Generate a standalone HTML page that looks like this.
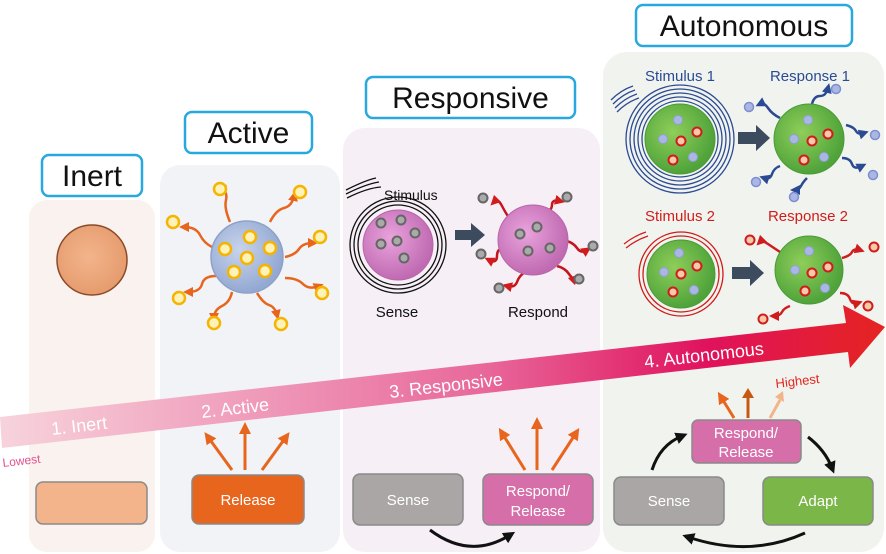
<!DOCTYPE html>
<html><head><meta charset="utf-8"><style>
html,body{margin:0;padding:0;background:#fff;}
svg{display:block;font-family:"Liberation Sans",sans-serif;}
</style></head><body>
<svg width="886" height="554" viewBox="0 0 886 554" xmlns="http://www.w3.org/2000/svg">
<defs>
<linearGradient id="ar" x1="0" y1="0" x2="1" y2="0">
<stop offset="0" stop-color="#f7d3dc"/><stop offset="0.55" stop-color="#e8679a"/><stop offset="0.8" stop-color="#e0125d"/><stop offset="1" stop-color="#e52420"/></linearGradient>
<radialGradient id="gs" cx="0.4" cy="0.4" r="0.6"><stop offset="0" stop-color="#8fce5a"/><stop offset="1" stop-color="#4fa33a"/></radialGradient>
<radialGradient id="ps" cx="0.4" cy="0.4" r="0.6"><stop offset="0" stop-color="#e9a3dc"/><stop offset="1" stop-color="#c06ab2"/></radialGradient>
<radialGradient id="bs" cx="0.4" cy="0.4" r="0.6"><stop offset="0" stop-color="#c8d4ec"/><stop offset="1" stop-color="#93a8d2"/></radialGradient>
<radialGradient id="os" cx="0.45" cy="0.45" r="0.6"><stop offset="0" stop-color="#f4b48b"/><stop offset="1" stop-color="#e49a6c"/></radialGradient>
<marker id="ma" markerWidth="4" markerHeight="4" refX="2" refY="2" orient="auto"><path d="M0,0 L4,2 L0,4z" fill="#e8651e"/></marker>
<marker id="mk" markerWidth="4" markerHeight="4" refX="2" refY="2" orient="auto"><path d="M0,0 L4,2 L0,4z" fill="#111"/></marker>
<marker id="mr" markerWidth="4" markerHeight="4" refX="2" refY="2" orient="auto"><path d="M0,0 L4,2 L0,4z" fill="#d01c1c"/></marker>
<marker id="mb" markerWidth="4" markerHeight="4" refX="2" refY="2" orient="auto"><path d="M0,0 L4,2 L0,4z" fill="#2b4a94"/></marker>
</defs>
<!-- panels -->
<rect x="29" y="200" width="126" height="352" rx="18" fill="#f9f2ee"/>
<rect x="160" y="165" width="180" height="387" rx="20" fill="#f1f3f7"/>
<rect x="343" y="128" width="257" height="424" rx="22" fill="#f6eff6"/>
<rect x="603" y="52" width="281" height="500" rx="24" fill="#f1f4ee"/>
<!-- titles -->
<g font-size="30" text-anchor="middle" fill="#111">
<rect x="42" y="155" width="100" height="41" rx="7" fill="#fff" stroke="#29a8e0" stroke-width="2.5"/><text x="92" y="186">Inert</text>
<rect x="185" y="112" width="127" height="41" rx="7" fill="#fff" stroke="#29a8e0" stroke-width="2.5"/><text x="248.5" y="143">Active</text>
<rect x="366" y="77" width="209" height="41" rx="7" fill="#fff" stroke="#29a8e0" stroke-width="2.5"/><text x="470.5" y="108">Responsive</text>
<rect x="636" y="5" width="216" height="41" rx="7" fill="#fff" stroke="#29a8e0" stroke-width="2.5"/><text x="744" y="36">Autonomous</text>
</g>
<!-- inert -->
<circle cx="92" cy="260" r="35" fill="url(#os)" stroke="#8b4a2a" stroke-width="1.5"/>
<!-- active -->
<g stroke="#e8651e" stroke-width="2.5" fill="none" marker-end="url(#ma)">
<path d="M230,222 q-6,-14 -4,-22 t-6,-14"/><path d="M270,222 q6,-12 14,-14 t10,-12"/>
<path d="M212,247 q-8,-4 -12,-12 t-16,-8"/><path d="M285,257 q10,-2 14,-8 t14,-6"/>
<path d="M285,278 q12,0 18,6 t16,2"/><path d="M216,276 q-12,0 -14,8 t-14,8"/>
<path d="M232,292 q-2,10 -10,14 t-8,12"/><path d="M257,293 q6,10 12,12 t8,10"/>
</g>
<g fill="#fff2b8" stroke="#f5b400" stroke-width="2.5">
<circle cx="220" cy="189" r="6"/><circle cx="300" cy="192" r="6"/><circle cx="173" cy="222" r="6"/><circle cx="320" cy="237" r="6"/>
<circle cx="179" cy="298" r="6"/><circle cx="322" cy="293" r="6"/><circle cx="214" cy="323" r="6"/><circle cx="281" cy="324" r="6"/>
</g>
<circle cx="247" cy="257" r="36" fill="url(#bs)" stroke="#8ea2c8" stroke-width="1.5"/>
<g fill="#fff2b8" stroke="#f5b400" stroke-width="2.5">
<circle cx="250" cy="237" r="6"/><circle cx="225" cy="249" r="6"/><circle cx="270" cy="248" r="6"/><circle cx="247" cy="258" r="6"/><circle cx="234" cy="272" r="6"/><circle cx="265" cy="271" r="6"/>
</g>
<!-- responsive -->
<g fill="none" stroke="#111" stroke-width="1.3">
<circle cx="398" cy="245" r="40"/><circle cx="398" cy="245" r="44"/><circle cx="398" cy="245" r="48"/>
<path d="M346,190 q20,-10 30,-12"/><path d="M346,194 q20,-10 33,-12"/><path d="M347,198 q20,-10 34,-11"/>
</g>
<text x="384" y="200" font-size="14" fill="#111">Stimulus</text>
<circle cx="398" cy="245" r="35" fill="url(#ps)" stroke="#b865a8"/>
<g fill="#aaa" stroke="#666" stroke-width="2">
<circle cx="381" cy="223" r="4.5"/><circle cx="401" cy="220" r="4.5"/><circle cx="415" cy="233" r="4.5"/><circle cx="381" cy="244" r="4.5"/><circle cx="397" cy="241" r="4.5"/><circle cx="404" cy="258" r="4.5"/>
</g>
<path d="M455,230 h16 v-7 l14,12 l-14,12 v-7 h-16z" fill="#3d4b5e"/>
<g stroke="#c4161c" stroke-width="2.5" fill="none" marker-end="url(#mr)">
<path d="M512,222 q-6,-8 -10,-16 t-8,-4"/><path d="M542,215 q10,-4 10,-10 t8,-4"/><path d="M563,240 q10,2 14,8 t10,2"/><path d="M557,266 q8,2 12,8 t6,4"/><path d="M525,272 q-6,4 -8,10 t-10,4"/><path d="M505,248 q-8,0 -8,8 t-8,4"/>
</g>
<circle cx="533" cy="240" r="35" fill="url(#ps)" stroke="#b865a8"/>
<g fill="#aaa" stroke="#666" stroke-width="2">
<circle cx="520" cy="234" r="4.5"/><circle cx="537" cy="227" r="4.5"/><circle cx="528" cy="251" r="4.5"/><circle cx="550" cy="248" r="4.5"/>
<circle cx="483" cy="198" r="4.5"/><circle cx="567" cy="197" r="4.5"/><circle cx="593" cy="246" r="4.5"/><circle cx="579" cy="279" r="4.5"/><circle cx="499" cy="288" r="4.5"/><circle cx="481" cy="254" r="4.5"/>
</g>
<text x="397" y="317" font-size="15" text-anchor="middle" fill="#111">Sense</text>
<text x="538" y="317" font-size="15" text-anchor="middle" fill="#111">Respond</text>
<!-- autonomous -->
<g font-size="15" text-anchor="middle">
<text x="680" y="81" fill="#2b4a94">Stimulus 1</text><text x="810" y="81" fill="#2b4a94">Response 1</text>
<text x="680" y="221" fill="#d01c1c">Stimulus 2</text><text x="808" y="221" fill="#d01c1c">Response 2</text>
</g>
<g fill="none" stroke="#2b4a94" stroke-width="1.3">
<circle cx="680" cy="139" r="38"/><circle cx="680" cy="139" r="42"/><circle cx="680" cy="139" r="46"/><circle cx="680" cy="139" r="50"/><circle cx="680" cy="139" r="54"/>
<path d="M611,100 q10,-10 22,-14"/><path d="M613,104 q10,-10 22,-14"/><path d="M615,108 q10,-10 22,-14"/><path d="M617,112 q10,-10 22,-14"/>
</g>
<g fill="none" stroke="#d01c1c" stroke-width="1.3">
<circle cx="681" cy="274" r="38"/><circle cx="681" cy="274" r="42"/>
<path d="M624,244 q10,-8 22,-12"/><path d="M626,248 q10,-8 22,-12"/>
</g>
<path d="M738,132 h18 v-7 l14,13 l-14,13 v-7 h-18z" fill="#3d4b5e"/>
<path d="M732,267 h18 v-7 l14,13 l-14,13 v-7 h-18z" fill="#3d4b5e"/>
<g stroke="#2b4a94" stroke-width="2.5" fill="none" marker-end="url(#mb)">
<path d="M812,104 q2,-8 8,-8 t8,-8"/><path d="M780,118 q-8,-4 -12,-10 t-8,-4"/><path d="M846,125 q8,2 10,6 t8,2"/><path d="M842,158 q8,0 10,6 t10,2"/><path d="M780,166 q-6,2 -8,8 t-8,4"/><path d="M807,178 q-4,4 -6,8 t-6,4"/>
</g>
<g fill="#aab7e4" stroke="#7d8fd0" stroke-width="1.5">
<circle cx="836" cy="89" r="4.5"/><circle cx="749" cy="107" r="4.5"/><circle cx="875" cy="135" r="4.5"/><circle cx="873" cy="175" r="4.5"/><circle cx="756" cy="182" r="4.5"/><circle cx="794" cy="197" r="4.5"/>
</g>
<g stroke="#d01c1c" stroke-width="2.5" fill="none" marker-end="url(#mr)">
<path d="M780,252 q-6,-4 -12,-8 t-8,-2"/><path d="M842,258 q8,-2 10,-6 t8,-2"/><path d="M840,293 q8,0 10,6 t8,4"/><path d="M790,306 q-6,2 -8,6 t-8,4"/>
</g>
<g fill="#f7c9a8" stroke="#d01c1c" stroke-width="2">
<circle cx="750" cy="240" r="4.5"/><circle cx="874" cy="247" r="4.5"/><circle cx="868" cy="306" r="4.5"/><circle cx="763" cy="319" r="4.5"/>
</g>
<circle cx="680" cy="139" r="35" fill="url(#gs)" stroke="#4b9a36"/>
<circle cx="809" cy="139" r="35" fill="url(#gs)" stroke="#4b9a36"/>
<circle cx="681" cy="274" r="34" fill="url(#gs)" stroke="#4b9a36"/>
<circle cx="809" cy="270" r="34" fill="url(#gs)" stroke="#4b9a36"/>
<g fill="#aab7e4" stroke="#8f9fd8" stroke-width="1">
<circle cx="678" cy="120" r="4.5"/><circle cx="663" cy="139" r="4.5"/><circle cx="693" cy="157" r="4.5"/>
<circle cx="808" cy="120" r="4.5"/><circle cx="794" cy="139" r="4.5"/><circle cx="824" cy="157" r="4.5"/>
<circle cx="679" cy="253" r="4.5"/><circle cx="664" cy="272" r="4.5"/><circle cx="694" cy="290" r="4.5"/>
<circle cx="809" cy="251" r="4.5"/><circle cx="795" cy="270" r="4.5"/><circle cx="825" cy="288" r="4.5"/>
</g>
<g fill="#f7c9a8" stroke="#d01c1c" stroke-width="2">
<circle cx="697" cy="132" r="4.5"/><circle cx="681" cy="141" r="4.5"/><circle cx="673" cy="160" r="4.5"/>
<circle cx="828" cy="134" r="4.5"/><circle cx="812" cy="141" r="4.5"/><circle cx="804" cy="160" r="4.5"/>
<circle cx="697" cy="266" r="4.5"/><circle cx="681" cy="274" r="4.5"/><circle cx="673" cy="292" r="4.5"/>
<circle cx="828" cy="267" r="4.5"/><circle cx="812" cy="273" r="4.5"/><circle cx="805" cy="291" r="4.5"/>
</g>
<!-- big arrow -->
<path d="M0,417 L846,323 L843,305 L885,327 L850,368 L848,352 L2,448 Z" fill="url(#ar)"/>
<g fill="#fff" font-size="18">
<text x="52" y="435" transform="rotate(-6.5 52 435)">1. Inert</text>
<text x="202" y="418" transform="rotate(-6.5 202 418)">2. Active</text>
<text x="390" y="398" transform="rotate(-6.5 390 398)">3. Responsive</text>
<text x="645" y="368" transform="rotate(-6.5 645 368)">4. Autonomous</text>
</g>
<text x="3" y="467" font-size="12" fill="#e0528e" transform="rotate(-6.5 3 467)">Lowest</text>
<text x="776" y="388" font-size="13" fill="#e52420" transform="rotate(-6.5 776 388)">Highest</text>
<!-- up arrows -->
<g stroke="#e8651e" stroke-width="3" fill="none" marker-end="url(#ma)">
<path d="M232,470 L208,437"/><path d="M245,470 L245,428"/><path d="M262,470 L286,437"/>
<path d="M525,470 L502,433"/><path d="M537,470 L537,423"/><path d="M552,470 L576,433"/>
</g>
<path d="M734,418 L721,397" stroke="#e8651e" stroke-width="3" marker-end="url(#ma)"/>
<path d="M748,418 L748,394" stroke="#c85712" stroke-width="3"/><path d="M742,398 L748,388 L754,398z" fill="#c85712"/>
<path d="M770,418 L780,400" stroke="#f4b48b" stroke-width="3"/><path d="M775,397 L783,391 L784,402z" fill="#f4b48b"/>
<!-- boxes -->
<g stroke="#8a8a8a" stroke-width="1.5">
<rect x="36" y="482" width="111" height="42" rx="7" fill="#f4b48b"/>
<rect x="192" y="475" width="112" height="49" rx="7" fill="#e8651e"/>
<rect x="353" y="474" width="110" height="51" rx="7" fill="#aaa6a6"/>
<rect x="483" y="474" width="110" height="51" rx="7" fill="#d66ea9"/>
<rect x="614" y="477" width="110" height="48" rx="7" fill="#aaa6a6"/>
<rect x="763" y="477" width="110" height="48" rx="7" fill="#7ab648"/>
<rect x="692" y="420" width="109" height="43" rx="6" fill="#d66ea9"/>
</g>
<g fill="#fff" font-size="15" text-anchor="middle">
<text x="248" y="505">Release</text>
<text x="408" y="505">Sense</text>
<text x="538" y="496">Respond/</text><text x="538" y="516">Release</text>
<text x="669" y="506">Sense</text>
<text x="818" y="506">Adapt</text>
<text x="746" y="438">Respond/</text><text x="746" y="457">Release</text>
</g>
<!-- black curved arrows -->
<g stroke="#111" stroke-width="3" fill="none" marker-end="url(#mk)">
<path d="M430,530 Q470,560 510,535"/>
<path d="M652,470 Q660,445 682,436"/>
<path d="M808,437 Q825,450 832,468"/>
<path d="M805,533 Q750,558 688,537"/>
</g>
</svg>
</body></html>
